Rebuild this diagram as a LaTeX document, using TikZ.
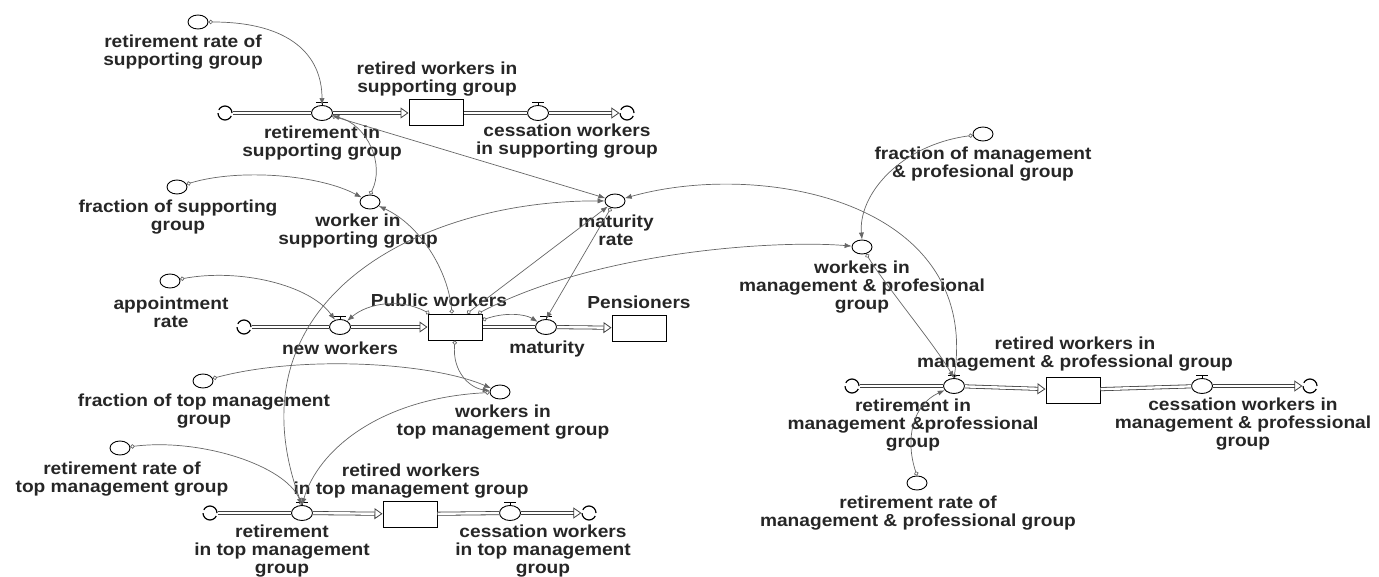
\documentclass[tikz,border=0pt]{standalone}
\usepackage{fontspec}
\setmainfont{Liberation Sans}[FakeStretch=1.1]
\usetikzlibrary{shapes.geometric,arrows.meta}

\tikzset{
  aux/.style={ellipse,draw,fill=white,minimum width=10pt,minimum height=7pt,inner sep=0pt,line width=0.45pt},
  valve/.style={ellipse,draw,fill=white,minimum width=10.5pt,minimum height=7.5pt,inner sep=0pt,line width=0.45pt},
  stock/.style={rectangle,draw,fill=white,minimum width=\stockwidth pt,minimum height=\stockheight pt,inner sep=0pt,line width=0.5pt},
  cloudsym/.style={circle,draw,minimum size=7pt,inner sep=0pt,line width=0.6pt,dash pattern=on 9.3pt off 1.7pt},
  lbl/.style={align=center,font=\fontsize{8.7}{9}\selectfont\bfseries,text=black!85,inner sep=0pt},
  link/.style={draw=black!60,line width=0.35pt,arrows={Circle[open,length=2.2pt,width=2.2pt]-Latex[length=3.5pt,width=2.6pt]}},
  pipe/.style={draw=black!75,double=white,double distance=1.2pt,line width=0.4pt},
  pipehead/.style={pipe,-{Triangle[open,length=4pt,width=5.5pt]}}
}
\newcommand{\valvecap}[1]{\draw[line width=0.5pt] (#1.north) -- ++(0,-3) ++(-6,0) -- ++(12,0);}

\begin{document}
\begin{tikzpicture}[x=0.5pt,y=-0.5pt]
    \pgfmathsetmacro{\stockwidth}{27}
    \pgfmathsetmacro{\stockheight}{13}
    \useasboundingbox (0,0) rectangle (1379,577);

    % supporting group
    \node[aux] (rrs) at (198,22) {};
    \node[lbl] (l-rrs) at (183,52) {retirement rate of\\supporting group};
    \node[cloudsym] (cl1) at (225,113) {};
    \node[valve] (rs) at (322,113) {};
    \node[lbl] (l-rs) at (322,143) {retirement in\\supporting group};
    \node[stock] (rws) at (436,113) {};
    \node[lbl] (l-rws) at (437,79) {retired workers in\\supporting group};
    \node[valve] (cs) at (538,113) {};
    \node[lbl] (l-cs) at (567,141) {cessation workers\\in supporting group};
    \node[cloudsym] (cl2) at (627,113) {};
    \node[aux] (fs) at (177,187) {};
    \node[lbl] (l-fs) at (178,217) {fraction of supporting\\group};
    \node[aux] (ws) at (370,202) {};
    \node[lbl] (l-ws) at (358,231) {worker in\\supporting group};

    % public workers
    \node[aux] (ar) at (170,281) {};
    \node[lbl] (l-ar) at (171,312) {appointment\\rate};
    \node[cloudsym] (cl3) at (244,327) {};
    \node[valve] (nw) at (340,327) {};
    \node[lbl] (l-nw) at (340,348) {new workers};
    \node[stock] (pw) at (455,327) {};
    \node[lbl] (l-pw) at (439,300) {Public workers};
    \node[valve] (mat) at (546,327) {};
    \node[lbl] (l-mat) at (547,349) {maturity};
    \node[stock] (pen) at (639,328) {};
    \node[lbl] (l-pen) at (639,302) {Pensioners};
    \node[aux] (mr) at (615,201) {};
    \node[lbl] (l-mr) at (616,230) {maturity\\rate};

    % top management group
    \node[aux] (ftm) at (203,381) {};
    \node[lbl] (l-ftm) at (204,411) {fraction of top management\\group};
    \node[aux] (wtm) at (500,392) {};
    \node[lbl] (l-wtm) at (503,422) {workers in\\top management group};
    \node[aux] (rrt) at (120,448) {};
    \node[lbl] (l-rrt) at (122,479) {retirement rate of\\top management group};
    \node[cloudsym] (cl4) at (210,513) {};
    \node[valve] (rtm) at (302,513) {};
    \node[lbl] (l-rtm) at (282,551) {retirement\\in top management\\group};
    \node[stock] (rwt) at (410,514) {};
    \node[lbl] (l-rwt) at (411,481) {retired workers\\in top management group};
    \node[valve] (ct) at (510,513) {};
    \node[lbl] (l-ct) at (543,551) {cessation workers\\in top management\\group};
    \node[cloudsym] (cl5) at (589,513) {};

    % management & professional group
    \node[aux] (fmp) at (983,134) {};
    \node[lbl] (l-fmp) at (983,164) {fraction of management\\\& profesional group};
    \node[aux] (wmp) at (862,247) {};
    \node[lbl] (l-wmp) at (862,287) {workers in\\management \& profesional\\group};
    \node[cloudsym] (cl6) at (852,386) {};
    \node[valve] (rmp) at (954,386) {};
    \node[lbl] (l-rmp) at (913,425) {retirement in\\management \&professional\\group};
    \node[stock] (rwmp) at (1073,390) {};
    \node[lbl] (l-rwmp) at (1075,354) {retired workers in\\management \& professional group};
    \node[valve] (cmp) at (1202,386) {};
    \node[lbl] (l-cmp) at (1243,424) {cessation workers in\\management \& professional\\group};
    \node[cloudsym] (cl7) at (1310,386) {};
    \node[aux] (rrmp) at (917,483) {};
    \node[lbl] (l-rrmp) at (918,513) {retirement rate of\\management \& professional group};

    % valve caps
    \valvecap{rs} \valvecap{cs} \valvecap{nw} \valvecap{mat}
    \valvecap{rtm} \valvecap{ct} \valvecap{rmp} \valvecap{cmp}

    % pipes
    \draw[pipe] (cl1) -- (rs);
    \draw[pipehead] (rs) -- (rws);
    \draw[pipe] (rws) -- (cs);
    \draw[pipehead] (cs) -- (cl2);
    \draw[pipe] (cl3) -- (nw);
    \draw[pipehead] (nw) -- (pw);
    \draw[pipe] (pw) -- (mat);
    \draw[pipehead] (mat) -- (pen);
    \draw[pipe] (cl4) -- (rtm);
    \draw[pipehead] (rtm) -- (rwt);
    \draw[pipe] (rwt) -- (ct);
    \draw[pipehead] (ct) -- (cl5);
    \draw[pipe] (cl6) -- (rmp);
    \draw[pipehead] (rmp) -- (rwmp);
    \draw[pipe] (rwmp) -- (cmp);
    \draw[pipehead] (cmp) -- (cl7);

    % links
    \draw[link] (rrs) .. controls (290,22) and (322,55) .. (rs.north);
    \draw[link] (ws.north) .. controls (385,165) and (368,125) .. (rs);
    \draw[link] (rs) -- (mr);
    \draw[link] (fs) .. controls (240,168) and (320,175) .. (ws);
    \draw[link] (ar) .. controls (240,268) and (310,285) .. (nw);
    \draw[link] ([xshift=1pt]pw.north west) .. controls (400,298) and (368,303) .. (nw);
    \draw[link] ([xshift=-1.5pt]pw.north) .. controls (448,270) and (420,225) .. (ws);
    \draw[link] ([xshift=6pt]pw.north) -- (mr);
    \draw[link] ([xshift=11.5pt]pw.north) .. controls (600,250) and (780,240) .. (wmp);
    \draw[link] ([yshift=3.5pt]pw.east) .. controls (505,312) and (525,314) .. (mat);
    \draw[link] (pw.south) .. controls (452,372) and (470,388) .. (wtm);
    \draw[link] (mr) -- (mat.north);
    \draw[link] (rtm.north) .. controls (225,300) and (420,200) .. (mr);
    \draw[link] (wtm) .. controls (380,398) and (318,450) .. (rtm.north);
    \draw[link] (rrt) .. controls (200,438) and (285,465) .. (rtm.north);
    \draw[link] (ftm) .. controls (300,355) and (430,362) .. (wtm);
    \draw[link] (fmp) .. controls (900,145) and (858,195) .. (wmp.north);
    \draw[link] (wmp) .. controls (885,285) and (935,345) .. (rmp.north);
    \draw[link] (rmp.north) .. controls (980,200) and (760,160) .. (mr);
    \draw[link] (rrmp.north) .. controls (905,440) and (912,405) .. (rmp);
\end{tikzpicture}
\end{document}
